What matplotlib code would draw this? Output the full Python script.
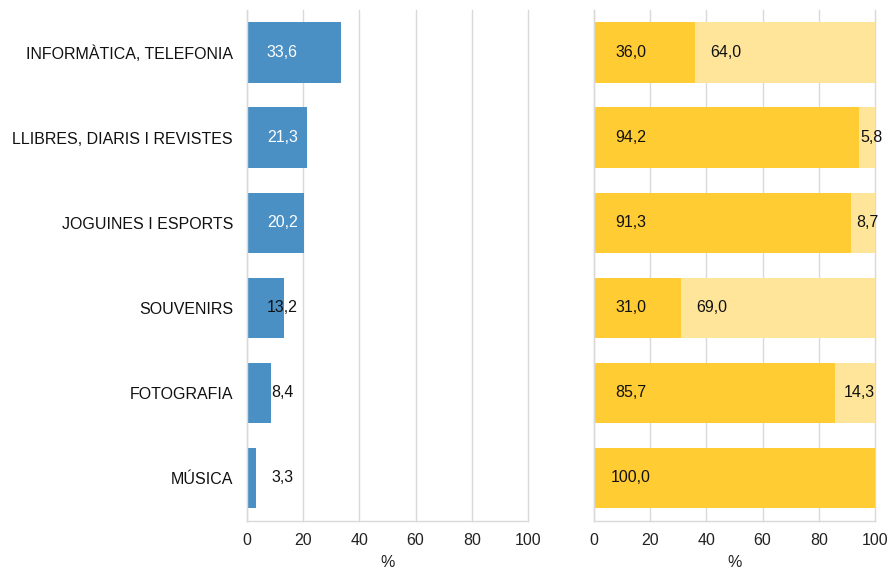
import numpy as np
import matplotlib
matplotlib.use('Agg')
import matplotlib.pyplot as plt

plt.rcParams['font.family'] = ['Liberation Sans', 'DejaVu Sans']

# Dades
categories = ['INFORMÀTICA, TELEFONIA', 'LLIBRES, DIARIS I REVISTES', 'JOGUINES I ESPORTS',
              'SOUVENIRS', 'FOTOGRAFIA', 'MÚSICA']
pes = [33.6, 21.3, 20.2, 13.2, 8.4, 3.3]
part_a = [36.0, 94.2, 91.3, 31.0, 85.7, 100.0]
part_b = [64.0, 5.8, 8.7, 69.0, 14.3, 0.0]
ticks = [0, 20, 40, 60, 80, 100]

blau = '#4A90C4'
groc = '#FFCC33'
groc_clar = '#FFE599'
gris = '#D9D9D9'
fs = 11.5

def fmt(v):
    return f'{v:.1f}'.replace('.', ',')

fig = plt.figure(figsize=(8.92, 5.73), dpi=100)
ax1 = fig.add_axes([247/892, 1-520.5/573, 281/892, 510.5/573])
ax2 = fig.add_axes([594/892, 1-520.5/573, 281/892, 510.5/573])

y = np.arange(len(categories))
h = 0.71

for ax in (ax1, ax2):
    ax.set_xlim(0, 100)
    ax.set_ylim(len(categories) - 0.5, -0.5)
    ax.set_xticks(ticks)
    ax.set_xticklabels([str(t) for t in ticks], fontsize=fs, color='#222222')
    ax.xaxis.grid(True, color=gris, linewidth=1)
    for gl in ax.get_xgridlines():
        gl.set_clip_on(False)
    ax.set_axisbelow(True)
    for s in ['top', 'right']:
        ax.spines[s].set_visible(False)
    for s in ['left', 'bottom']:
        ax.spines[s].set_color(gris)
        ax.spines[s].set_linewidth(1)
    ax.tick_params(axis='both', length=0)
    ax.tick_params(axis='x', pad=9)
    ax.set_xlabel('%', fontsize=fs, labelpad=5, color='#222222')

# Panell esquerre
ax1.barh(y, pes, height=h, color=blau)
ax1.set_yticks(y)
ax1.set_yticklabels(categories, fontsize=fs, color='#111111')
ax1.tick_params(axis='y', pad=10)
for i, v in enumerate(pes):
    col = 'white' if v > 18 else '#111111'
    ax1.text(12.6, i, fmt(v), ha='center', va='center', fontsize=fs, color=col)

# Panell dret
ax2.barh(y, part_a, height=h, color=groc)
ax2.barh(y, part_b, left=part_a, height=h, color=groc_clar)
ax2.set_yticks(y)
ax2.set_yticklabels([])
for i, (a, b) in enumerate(zip(part_a, part_b)):
    ax2.text(13, i, fmt(a), ha='center', va='center', fontsize=fs, color='#111111')
    if b > 0:
        x = a + 11 if b > 30 else a + b / 2 + 1.5
        ax2.text(x, i, fmt(b), ha='center', va='center', fontsize=fs, color='#111111')

fig.savefig('out.png', dpi=100)
